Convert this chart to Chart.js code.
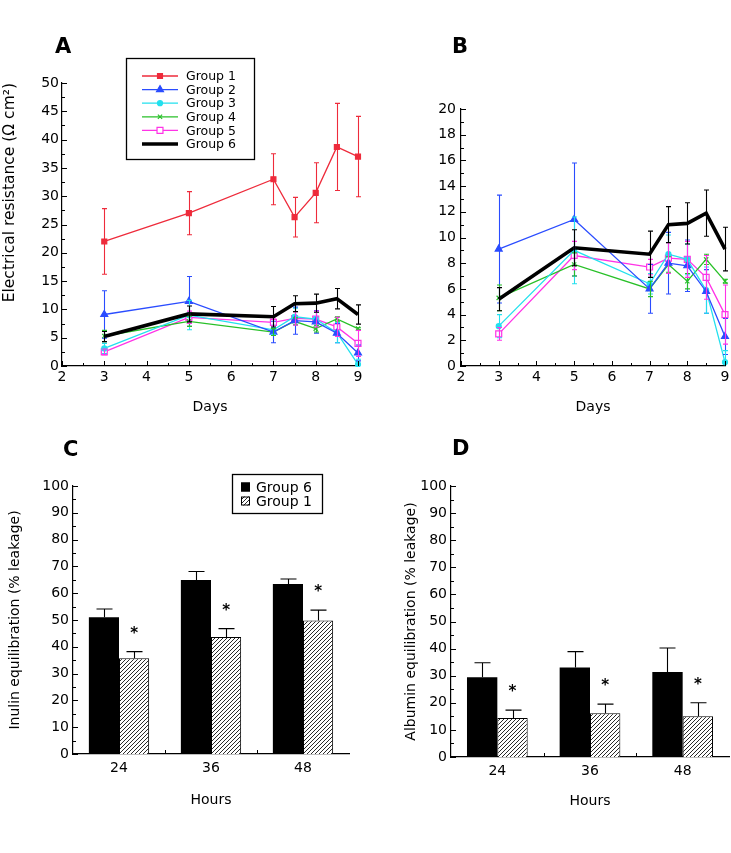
<!DOCTYPE html>
<html>
<head>
<meta charset="utf-8">
<script src="https://cdn.jsdelivr.net/npm/chart.js@4.4.0/dist/chart.umd.min.js"></script>
<style>
  body { margin: 0; background: #fff; font-family: "DejaVu Sans", sans-serif; }
  #page { position: relative; width: 731px; height: 853px; overflow: hidden; }
  canvas { position: absolute; }
  .letter { position: absolute; font-weight: bold; font-size: 21px; line-height: 21px; color: #000; }
</style>
</head>
<body>
<div id="page">
  <canvas id="chartA" width="370" height="425" style="left:0;top:0"></canvas>
  <canvas id="chartB" width="361" height="425" style="left:370px;top:0"></canvas>
  <canvas id="chartC" width="370" height="428" style="left:0;top:425px"></canvas>
  <canvas id="chartD" width="361" height="428" style="left:370px;top:425px"></canvas>
  <div class="letter" style="left:55px;top:36px">A</div>
  <div class="letter" style="left:452px;top:36px">B</div>
  <div class="letter" style="left:63px;top:439px">C</div>
  <div class="letter" style="left:452px;top:438px">D</div>
</div>
<script>
// electrical resistance, days after seeding
const days = [3, 5, 7, 7.5, 8, 8.5, 9];
const group1 = [22, 27, 33, 26.3, 30.6, 38.7, 37];
const group1Err = [5.8, 3.8, 4.5, 3.5, 5.3, 7.7, 7.1];
const group2 = [9.1, 11.4, 6.0, 8.0, 7.8, 5.8, 2.3];
const group2Err = [4.2, 4.4, 1.9, 2.4, 2.0, 1.7, 1.4];
const group3 = [3.1, 9.0, 6.4, 8.7, 8.3, 5.9, 0.3];
const group3Err = [0.9, 2.6, 0.8, 1.5, 1.2, 1.8, 0.9];
const group4 = [5.3, 7.9, 6.0, 7.9, 6.6, 8.3, 6.6];
const group4Err = [1.0, 0.9, 0.6, 0.6, 0.6, 0.4, 0.15];
const group5 = [2.5, 8.6, 7.7, 8.4, 8.3, 6.9, 4.0];
const group5Err = [0.5, 1.1, 0.6, 1.2, 1.4, 1.7, 2.3];
const group6 = [5.2, 9.2, 8.7, 11.0, 11.1, 11.9, 9.1];
const group6Err = [0.9, 1.4, 1.8, 1.4, 1.6, 1.8, 1.7];

// equilibration, hours
const hours = ['24', '36', '48'];
const inulinG6 = [51, 64.9, 63.4];
const inulinG6Err = [3.1, 3.2, 1.9];
const inulinG1 = [35.7, 43.7, 49.8];
const inulinG1Err = [2.5, 3.1, 3.9];
const albuminG6 = [29.4, 33.0, 31.4];
const albuminG6Err = [5.4, 5.9, 8.8];
const albuminG1 = [14.4, 16.1, 15.0];
const albuminG1Err = [2.9, 3.4, 5.0];

const FONT = '"DejaVu Sans", sans-serif';
Chart.defaults.font.family = FONT;
Chart.defaults.font.size = 14;
Chart.defaults.color = '#000';

const pts = arr => arr.map((v, i) => ({ x: days[i], y: v }));

const lineSeries = [
    { label: 'Group 1', data: group1, errors: group1Err, color: '#ee2b3b', style: 'rect', r: 3.5, fill: '#ee2b3b' },
    { label: 'Group 2', data: group2, errors: group2Err, color: '#2a4cff', style: 'triangle', r: 4, fill: '#2a4cff' },
    { label: 'Group 3', data: group3, errors: group3Err, color: '#22e0ee', style: 'circle', r: 2.5, fill: '#22e0ee' },
    { label: 'Group 4', data: group4, errors: group4Err, color: '#28c028', style: 'crossRot', r: 3, fill: '#28c028' },
    { label: 'Group 5', data: group5, errors: group5Err, color: '#ff33e6', style: 'rect', r: 4.2, fill: '#fff' },
    { label: 'Group 6', data: group6, errors: group6Err, color: '#000', style: 'circle', r: 0, fill: '#000', width: 3.6 }
];

function makeLineDatasets(series) {
    return series.map(s => ({
        label: s.label,
        data: pts(s.data),
        errors: s.errors,
        borderColor: s.color,
        backgroundColor: s.fill,
        borderWidth: s.width || 1.3,
        pointStyle: s.style,
        pointRadius: s.r,
        pointBorderWidth: 1.2,
        pointBorderColor: s.color,
        pointBackgroundColor: s.fill,
        order: s.width ? 0 : 1,
        clip: { left: 8, top: 8, right: 8, bottom: 1 },
        tension: 0
    }));
}

// inward tick marks (major + minor) along both axes
const innerTicks = {
    id: 'innerTicks',
    afterDraw(chart, args, opts) {
        const { ctx, chartArea: a } = chart;
        const xs = chart.scales.x, ys = chart.scales.y;
        ctx.save();
        ctx.strokeStyle = '#000';
        ctx.lineWidth = 1;
        ctx.beginPath();
        for (let v = ys.min; v <= ys.max + 1e-9; v += opts.yMinor) {
            const major = Math.abs(v / opts.yMajor - Math.round(v / opts.yMajor)) < 1e-6;
            const py = Math.round(ys.getPixelForValue(v)) + 0.5;
            ctx.moveTo(a.left, py);
            ctx.lineTo(a.left + (major ? 5 : 3), py);
        }
        if (xs.type === 'linear') {
            for (let v = xs.min; v <= xs.max + 1e-9; v += opts.xMinor) {
                const major = Math.abs(v / opts.xMajor - Math.round(v / opts.xMajor)) < 1e-6;
                const px = Math.round(xs.getPixelForValue(v)) + 0.5;
                ctx.moveTo(px, a.bottom);
                ctx.lineTo(px, a.bottom - (major ? 5 : 3));
            }
        } else {
            for (let i = 0; i < xs.ticks.length - 1; i++) {
                const px = Math.round((xs.getPixelForTick(i) + xs.getPixelForTick(i + 1)) / 2) + 0.5;
                ctx.moveTo(px, a.bottom);
                ctx.lineTo(px, a.bottom - 4);
            }
        }
        ctx.stroke();
        ctx.restore();
    }
};

// error bars (+ optional significance stars)
const errorBars = {
    id: 'errorBars',
    afterDatasetsDraw(chart, args, opts) {
        const { ctx, chartArea: a } = chart;
        const ys = chart.scales.y;
        ctx.save();
        ctx.beginPath();
        ctx.rect(a.left - 8, a.top - 2, a.right - a.left + 16, a.bottom - a.top + 2);
        ctx.clip();
        chart.data.datasets.forEach((ds, i) => {
            if (!ds.errors) return;
            const meta = chart.getDatasetMeta(i);
            ctx.strokeStyle = ds.errorColor || ds.borderColor;
            ctx.lineWidth = 1.1;
            meta.data.forEach((el, j) => {
                const raw = ds.data[j];
                const v = typeof raw === 'object' ? raw.y : raw;
                const e = ds.errors[j];
                const top = ys.getPixelForValue(v + e);
                const bot = Math.min(opts.upOnly ? ys.getPixelForValue(v) : ys.getPixelForValue(v - e), a.bottom);
                const x = Math.round(el.x) + 0.5;
                ctx.beginPath();
                ctx.moveTo(x, top);
                ctx.lineTo(x, bot);
                ctx.moveTo(x - opts.cap, top);
                ctx.lineTo(x + opts.cap, top);
                if (!opts.upOnly && bot < a.bottom) {
                    ctx.moveTo(x - opts.cap, bot);
                    ctx.lineTo(x + opts.cap, bot);
                }
                ctx.stroke();
                if (ds.stars) {
                    ctx.fillStyle = '#000';
                    ctx.font = 'bold 15px ' + FONT;
                    ctx.textAlign = 'center';
                    ctx.textBaseline = 'alphabetic';
                    ctx.fillText('*', el.x, top - 14);
                }
            });
        });
        ctx.restore();
    }
};

// boxed legend for the resistance plot: line sample + marker
const lineLegend = {
    id: 'lineLegend',
    afterDraw(chart, args, opts) {
        if (!opts.show) return;
        const { ctx } = chart;
        ctx.save();
        ctx.strokeStyle = '#000';
        ctx.lineWidth = 1.3;
        ctx.strokeRect(126.5, 58.5, 128, 101);
        chart.data.datasets.forEach((ds, i) => {
            const y = 76 + i * 13.6;
            ctx.strokeStyle = ds.borderColor;
            ctx.lineWidth = ds.borderWidth;
            ctx.beginPath();
            ctx.moveTo(142, y);
            ctx.lineTo(178, y);
            ctx.stroke();
            if (ds.pointRadius > 0) {
                ctx.fillStyle = ds.pointBackgroundColor;
                ctx.lineWidth = 1.2;
                Chart.helpers.drawPoint(ctx, { pointStyle: ds.pointStyle, radius: ds.pointRadius, rotation: 0, borderWidth: 1.2 }, 160, y);
            }
            ctx.fillStyle = '#000';
            ctx.font = '12.5px ' + FONT;
            ctx.textAlign = 'left';
            ctx.textBaseline = 'middle';
            ctx.fillText(ds.label, 186, y + 1);
        });
        ctx.restore();
    }
};

// boxed legend for the bar plots
const barLegend = {
    id: 'barLegend',
    afterDraw(chart, args, opts) {
        if (!opts.show) return;
        const { ctx } = chart;
        ctx.save();
        ctx.strokeStyle = '#000';
        ctx.lineWidth = 1.3;
        ctx.strokeRect(232.5, 49.5, 90, 39);
        chart.data.datasets.forEach((ds, i) => {
            const y = 62 + i * 14;
            const bg = typeof ds.backgroundColor === 'function' ? ds.backgroundColor({ chart }) : ds.backgroundColor;
            ctx.fillStyle = bg;
            ctx.fillRect(241, y - 4.5, 9, 9);
            ctx.strokeStyle = '#000';
            ctx.lineWidth = 1;
            ctx.strokeRect(241.5, y - 4, 8, 8);
            ctx.fillStyle = '#000';
            ctx.font = '14px ' + FONT;
            ctx.textAlign = 'left';
            ctx.textBaseline = 'middle';
            ctx.fillText(ds.label, 256, y + 1);
        });
        ctx.restore();
    }
};

const hatchTile = (() => {
    const c = document.createElement('canvas');
    c.width = 4; c.height = 4;
    const g = c.getContext('2d');
    g.fillStyle = '#fff';
    g.fillRect(0, 0, 4, 4);
    g.strokeStyle = '#2a2a2a';
    g.lineWidth = 1;
    g.beginPath();
    g.moveTo(0, 4); g.lineTo(4, 0);
    g.moveTo(-1, 1); g.lineTo(1, -1);
    g.moveTo(3, 5); g.lineTo(5, 3);
    g.stroke();
    return c;
})();
const hatch = ctx => ctx.chart.ctx.createPattern(hatchTile, 'repeat');

function axisBox(size, horizontal) {
    return s => {
        if (horizontal) {
            s.height = size;
            s.paddingLeft = 0; s.paddingRight = 0;
        } else {
            s.width = size;
            s.paddingTop = 0; s.paddingBottom = 0;
        }
    };
}

function lineChart(id, series, yMax, yStep, yMinor, yTitle, box) {
    return new Chart(document.getElementById(id), {
        type: 'line',
        data: { datasets: makeLineDatasets(series) },
        plugins: [innerTicks, errorBars, lineLegend],
        options: {
            responsive: false,
            animation: false,
            events: [],
            layout: { padding: box.pad },
            plugins: {
                legend: { display: false },
                tooltip: { enabled: false },
                innerTicks: { yMajor: yStep, yMinor: yMinor, xMajor: 1, xMinor: 0.5 },
                errorBars: { cap: 2.5, upOnly: false },
                lineLegend: { show: box.legend }
            },
            scales: {
                x: {
                    type: 'linear', min: 2, max: 9,
                    grid: { display: false, drawTicks: false },
                    border: { display: true, color: '#000', width: 1.2 },
                    ticks: { stepSize: 1, padding: 3 },
                    title: { display: true, text: 'Days', padding: { top: 0, bottom: 5 } },
                    afterFit: axisBox(55, true)
                },
                y: {
                    min: 0, max: yMax,
                    grid: { display: false, drawTicks: false },
                    border: { display: true, color: '#000', width: 1.2 },
                    ticks: { stepSize: yStep, padding: box.yPad },
                    title: { display: !!yTitle, text: yTitle, align: 'end', font: { size: 15.5 }, padding: { top: 1, bottom: 0 } },
                    afterFit: axisBox(box.yWidth, false)
                }
            }
        }
    });
}

lineChart('chartA', lineSeries, 50, 5, 2.5, 'Electrical resistance (Ω cm²)',
    { pad: { top: 83, right: 12, bottom: 4, left: 0 }, yWidth: 62, yPad: 3, legend: true });
lineChart('chartB', lineSeries.slice(1), 20, 2, 1, '',
    { pad: { top: 109, right: 6, bottom: 4, left: 0 }, yWidth: 91, yPad: 5, legend: false });

function barChart(id, g6, g6Err, g1, g1Err, yTitle, box) {
    return new Chart(document.getElementById(id), {
        type: 'bar',
        data: {
            labels: hours,
            datasets: [
                { label: 'Group 6', data: g6, errors: g6Err, backgroundColor: '#000', borderColor: '#000', borderWidth: 0 },
                { label: 'Group 1', data: g1, errors: g1Err, stars: true, backgroundColor: hatch, borderColor: '#000', borderWidth: 1, borderSkipped: 'bottom' }
            ]
        },
        plugins: [innerTicks, errorBars, barLegend],
        options: {
            responsive: false,
            animation: false,
            events: [],
            categoryPercentage: 0.655,
            barPercentage: 1,
            layout: { padding: box.pad },
            plugins: {
                legend: { display: false },
                tooltip: { enabled: false },
                innerTicks: { yMajor: 10, yMinor: 5 },
                errorBars: { cap: 8, upOnly: true },
                barLegend: { show: box.legend }
            },
            scales: {
                x: {
                    grid: { display: false, drawTicks: false },
                    border: { display: true, color: '#000', width: 1.2 },
                    ticks: { padding: 6 },
                    title: { display: true, text: 'Hours', padding: { top: 0, bottom: box.xtPad } },
                    afterFit: axisBox(60, true)
                },
                y: {
                    min: 0, max: 100,
                    grid: { display: false, drawTicks: false },
                    border: { display: true, color: '#000', width: 1.2 },
                    ticks: { stepSize: 10, padding: 4 },
                    title: { display: true, text: yTitle, padding: { top: box.ytPad, bottom: 0 } },
                    afterFit: axisBox(box.yWidth, false)
                }
            }
        }
    });
}

barChart('chartC', inulinG6, inulinG6Err, inulinG1, inulinG1Err, 'Inulin equilibration (% leakage)',
    { pad: { top: 61, right: 21, bottom: 39, left: 0 }, yWidth: 73, xtPad: 5, ytPad: 7, legend: true });
barChart('chartD', albuminG6, albuminG6Err, albuminG1, albuminG1Err, 'Albumin equilibration (% leakage)',
    { pad: { top: 61, right: 2, bottom: 36, left: 0 }, yWidth: 81, xtPad: 7, ytPad: 33, legend: false });
</script>
</body>
</html>
